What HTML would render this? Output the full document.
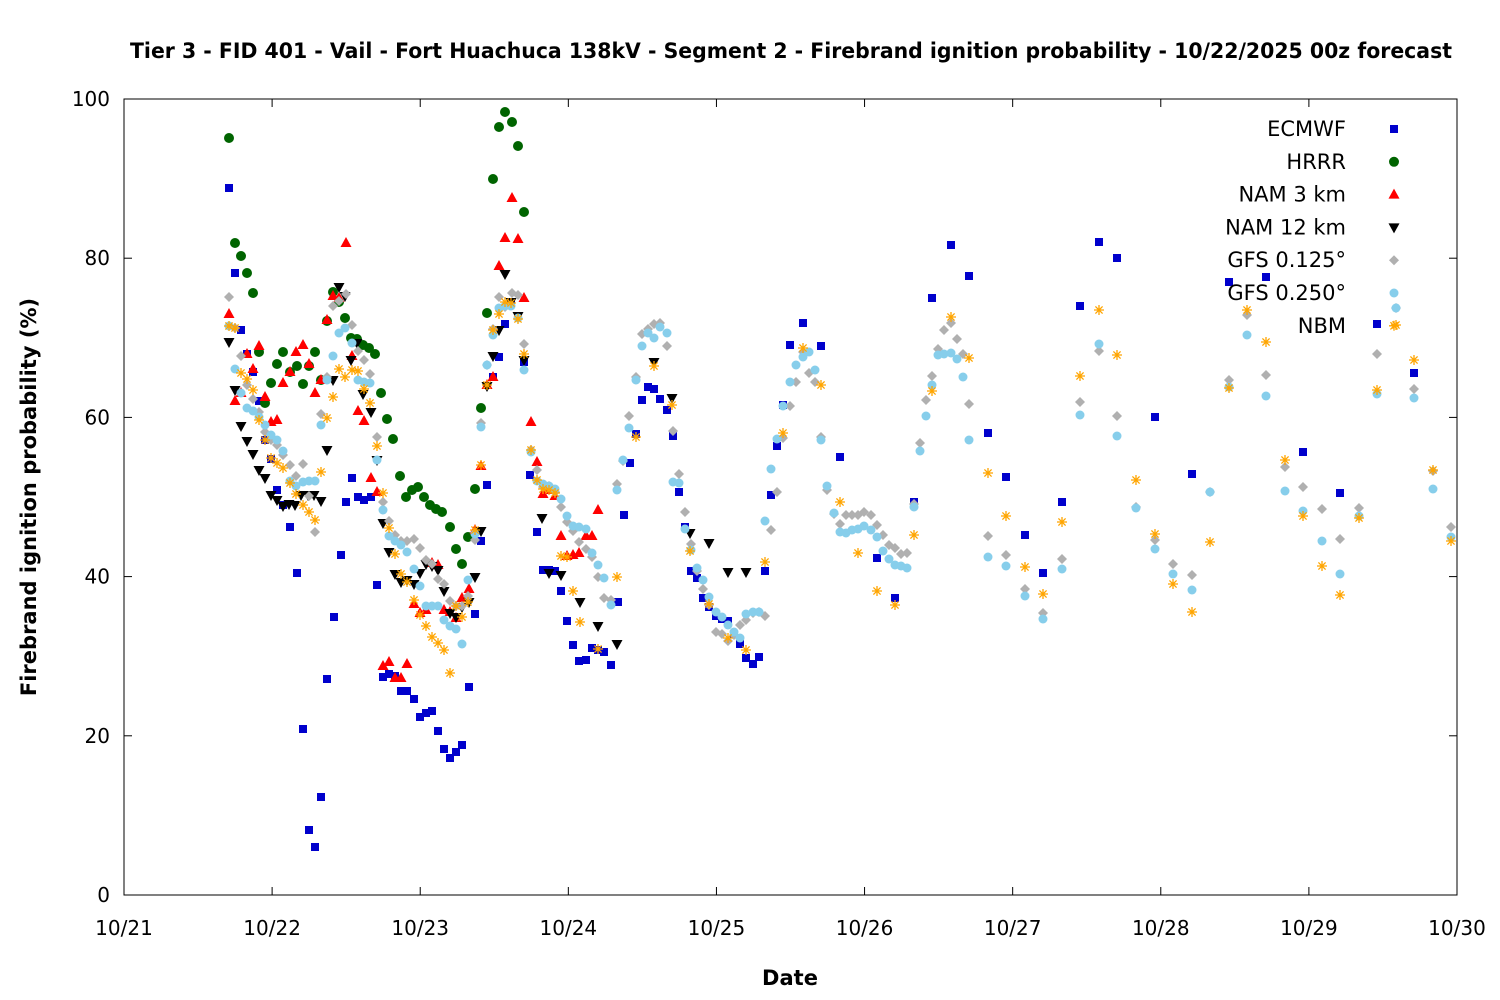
<!DOCTYPE html>
<html><head><meta charset="utf-8"><style>
body{margin:0;background:#fff}
svg{display:block;font-family:"DejaVu Sans","Liberation Sans",sans-serif}
</style></head><body>
<svg id="s" width="1500" height="1000" xmlns="http://www.w3.org/2000/svg">
<rect width="1500" height="1000" fill="#fff"/>
<text x="791" y="58" text-anchor="middle" font-size="21" font-weight="bold" textLength="1322" lengthAdjust="spacingAndGlyphs">Tier 3 - FID 401 - Vail - Fort Huachuca 138kV - Segment 2 - Firebrand ignition probability - 10/22/2025 00z forecast</text>
<rect x="124" y="99" width="1333" height="796" fill="none" stroke="#000" stroke-width="1"/>
<g id="ticks" stroke="#000" stroke-width="1"></g>
<g id="labels" font-size="20"></g>
<text x="790" y="985" text-anchor="middle" font-size="21" font-weight="bold">Date</text>
<text transform="translate(36,497) rotate(-90)" text-anchor="middle" font-size="21" font-weight="bold">Firebrand ignition probability (%)</text>
<g id="pts"></g>
<g id="leg" font-size="21" text-anchor="end"></g>
</svg>
<script>
const NS="http://www.w3.org/2000/svg";
function el(t,a,p){const e=document.createElementNS(NS,t);for(const k in a)e.setAttribute(k,a[k]);p.appendChild(e);return e;}
const ticks=document.getElementById('ticks'),labels=document.getElementById('labels');
const dates=['10/21','10/22','10/23','10/24','10/25','10/26','10/27','10/28','10/29','10/30'];
dates.forEach((d,i)=>{const x=124+i*1333/9;
 el('line',{x1:x,y1:895,x2:x,y2:887},ticks);el('line',{x1:x,y1:99,x2:x,y2:107},ticks);
 const t=el('text',{x:x,y:935,'text-anchor':'middle'},labels);t.textContent=d;});
for(let v=0;v<=100;v+=20){const y=895-v*7.96;
 el('line',{x1:124,y1:y,x2:132,y2:y},ticks);el('line',{x1:1457,y1:y,x2:1449,y2:y},ticks);
 const t=el('text',{x:110,y:y+7,'text-anchor':'end'},labels);t.textContent=v;}
function P(s){const a=s.match(/-?\d+/g).map(Number);const r=[];for(let i=0;i<a.length;i+=2)r.push([a[i],a[i+1]]);return r;}
const D={
ec:P("(229,188),(235,273),(241,330),(247,354),(253,372),(259,401),(265,440),(271,459),(277,490),(283,505),(290,527),(297,573),(303,729),(309,830),(315,847),(321,797),(327,679),(334,617),(341,555),(346,502),(352,478),(358,497),(364,500),(371,497),(377,585),(383,677),(389,674),(395,676),(401,691),(407,691),(414,699),(420,717),(426,713),(432,711),(438,731),(444,749),(450,758),(456,752),(462,745),(469,687),(475,614),(481,541),(487,485),(493,377),(499,357),(505,324),(511,302),(518,316),(524,362),(530,475),(537,532),(543,570),(549,570),(555,571),(561,591),(567,621),(573,645),(579,661),(586,660),(592,648),(598,650),(604,652),(611,665),(618,602),(624,515),(630,463),(636,434),(642,400),(648,387),(654,389),(660,399),(667,410),(673,436),(679,492),(685,527),(691,571),(697,578),(703,598),(709,607),(716,616),(722,619),(728,621),(734,634),(740,644),(746,658),(753,664),(759,657),(765,571),(771,495),(777,446),(783,405),(790,345),(803,323),(821,346),(840,457),(877,558),(895,598),(914,502),(932,298),(951,245),(969,276),(988,433),(1006,477),(1025,535),(1043,573),(1062,502),(1080,306),(1099,242),(1117,258),(1155,417),(1192,474),(1229,282),(1266,277),(1303,452),(1340,493),(1377,324),(1414,373)"),
hr:P("(229,138),(235,243),(241,256),(247,273),(253,293),(259,352),(265,403),(271,383),(277,364),(283,352),(290,372),(297,366),(303,384),(309,366),(315,352),(321,380),(327,321),(333,292),(339,302),(345,318),(351,338),(357,339),(363,345),(369,348),(375,354),(381,393),(387,419),(393,439),(400,476),(406,497),(412,490),(418,487),(424,497),(430,505),(436,509),(442,512),(450,527),(456,549),(462,564),(468,537),(475,489),(481,408),(487,313),(493,179),(499,127),(505,112),(512,122),(518,146),(524,212)"),
n3:P("(229,314),(235,401),(241,393),(247,354),(253,369),(259,346),(265,397),(271,422),(277,420),(283,383),(290,372),(296,352),(303,345),(309,364),(315,393),(321,380),(327,320),(333,296),(339,298),(346,243),(352,356),(358,411),(364,421),(371,478),(377,492),(383,666),(389,662),(395,678),(401,678),(407,664),(414,604),(420,613),(426,610),(432,563),(438,565),(444,610),(450,612),(456,618),(462,598),(469,589),(475,530),(481,466),(487,385),(493,377),(499,266),(505,238),(512,198),(518,239),(524,298),(531,422),(537,462),(543,494),(549,490),(555,496),(561,536),(567,556),(573,555),(579,553),(586,536),(592,536),(598,510)"),
n12:P("(229,342),(235,390),(241,426),(247,441),(253,454),(259,470),(265,478),(271,495),(277,500),(283,506),(289,504),(295,505),(301,495),(308,495),(314,495),(321,501),(327,450),(333,380),(339,287),(345,296),(351,360),(357,343),(363,394),(371,412),(377,460),(383,523),(389,552),(395,574),(401,582),(407,580),(414,584),(420,573),(426,564),(432,566),(438,570),(444,591),(450,613),(456,617),(462,607),(469,602),(475,577),(481,531),(487,386),(493,356),(499,330),(505,274),(511,302),(518,316),(524,360),(542,518),(549,573),(561,575),(580,602),(598,626),(617,644),(654,362),(672,398),(690,533),(709,543),(728,572),(746,572)"),
g1:P("(229,297),(235,328),(241,356),(247,385),(253,399),(259,412),(265,432),(271,440),(277,445),(283,455),(290,465),(296,476),(303,464),(309,496),(315,532),(321,414),(327,377),(333,306),(339,301),(346,294),(352,325),(358,351),(364,360),(370,374),(377,437),(383,502),(389,521),(395,535),(401,541),(407,541),(414,539),(420,548),(426,560),(432,564),(438,579),(444,584),(450,601),(456,606),(462,606),(468,596),(475,540),(481,423),(487,365),(493,329),(499,297),(505,307),(512,293),(518,295),(524,344),(531,450),(537,470),(543,487),(549,486),(555,492),(561,507),(567,522),(573,531),(579,542),(586,549),(592,557),(598,577),(604,598),(611,600),(617,484),(623,461),(629,416),(636,377),(642,334),(648,329),(654,324),(660,323),(667,346),(673,431),(679,474),(685,512),(691,544),(697,571),(703,589),(709,605),(716,632),(722,634),(728,641),(734,635),(740,625),(746,620),(753,613),(759,612),(765,616),(771,530),(777,492),(783,438),(790,406),(796,382),(803,352),(809,373),(815,382),(821,437),(827,490),(834,514),(840,524),(846,515),(852,515),(858,515),(864,512),(871,515),(877,525),(883,535),(889,545),(895,548),(901,554),(907,553),(914,504),(920,443),(926,400),(932,376),(938,349),(944,330),(951,323),(957,339),(963,354),(969,404),(988,536),(1006,555),(1025,589),(1043,613),(1062,559),(1080,402),(1099,351),(1117,416),(1136,507),(1155,540),(1173,564),(1192,575),(1210,492),(1229,380),(1247,315),(1266,375),(1285,467),(1303,487),(1322,509),(1340,539),(1359,508),(1377,354),(1396,308),(1414,389),(1433,471),(1451,527)"),
g2:P("(229,326),(235,369),(241,393),(247,408),(253,411),(259,417),(265,425),(271,435),(277,440),(283,451),(290,481),(296,486),(303,482),(309,481),(315,481),(321,425),(327,380),(333,356),(339,333),(345,328),(352,343),(358,380),(364,382),(370,383),(377,460),(383,510),(389,536),(395,541),(401,545),(407,552),(414,569),(420,586),(426,606),(432,606),(438,606),(444,620),(450,626),(456,629),(462,644),(468,580),(475,534),(481,427),(487,365),(493,335),(499,308),(505,306),(511,306),(518,318),(524,370),(531,452),(537,481),(543,484),(549,486),(555,489),(561,499),(567,516),(573,526),(579,527),(586,529),(592,553),(598,565),(604,578),(611,605),(617,490),(623,460),(629,428),(636,380),(642,346),(648,333),(654,338),(660,327),(667,333),(673,482),(679,483),(685,529),(691,550),(697,568),(703,580),(709,597),(716,612),(722,617),(728,625),(734,632),(740,638),(746,614),(753,612),(759,612),(765,521),(771,469),(777,439),(783,406),(790,382),(796,365),(803,357),(809,352),(815,370),(821,440),(827,486),(834,513),(840,532),(846,533),(852,530),(858,529),(864,526),(871,530),(877,537),(883,551),(889,559),(895,565),(901,566),(907,568),(914,507),(920,451),(926,416),(932,385),(938,355),(944,354),(951,353),(957,359),(963,377),(969,440),(988,557),(1006,566),(1025,596),(1043,619),(1062,569),(1080,415),(1099,344),(1117,436),(1136,508),(1155,549),(1173,574),(1192,590),(1210,492),(1229,387),(1247,335),(1266,396),(1285,491),(1303,511),(1322,541),(1340,574),(1359,516),(1377,394),(1396,308),(1414,398),(1433,489),(1451,537)"),
nb:P("(229,326),(235,328),(241,373),(247,379),(253,390),(259,420),(265,440),(271,458),(277,463),(283,468),(290,483),(296,494),(303,505),(309,512),(315,520),(321,472),(327,418),(333,397),(339,369),(345,377),(352,370),(358,371),(364,389),(370,403),(377,446),(383,493),(389,528),(395,554),(401,574),(407,582),(414,600),(420,615),(426,626),(432,637),(438,643),(444,650),(450,673),(456,606),(462,617),(468,602),(475,530),(481,465),(487,385),(493,330),(499,314),(505,302),(511,303),(518,319),(524,354),(531,450),(537,480),(543,489),(549,490),(555,493),(561,556),(567,557),(573,591),(580,622),(598,649),(617,577),(636,437),(654,366),(672,405),(690,551),(709,604),(728,638),(746,650),(765,562),(783,433),(803,348),(821,385),(840,502),(858,553),(877,591),(895,605),(914,535),(932,391),(951,317),(969,358),(988,473),(1006,516),(1025,567),(1043,594),(1062,522),(1080,376),(1099,310),(1117,355),(1136,480),(1155,534),(1173,584),(1192,612),(1210,542),(1229,388),(1247,310),(1266,342),(1285,460),(1303,516),(1322,566),(1340,595),(1359,518),(1377,390),(1396,325),(1414,360),(1433,470),(1451,541)")
};
const g=document.getElementById('pts');
const M={
ec:(x,y,p)=>el('rect',{x:x-4,y:y-4,width:8,height:8,fill:'#0000cc'},p),
hr:(x,y,p)=>el('circle',{cx:x,cy:y,r:5,fill:'#006400'},p),
n3:(x,y,p)=>el('polygon',{points:`${x},${y-6} ${x+5.5},${y+4} ${x-5.5},${y+4}`,fill:'#ff0000'},p),
n12:(x,y,p)=>el('polygon',{points:`${x},${y+6} ${x+5.5},${y-4} ${x-5.5},${y-4}`,fill:'#000'},p),
g1:(x,y,p)=>el('polygon',{points:`${x},${y-5} ${x+5},${y} ${x},${y+5} ${x-5},${y}`,fill:'#b0b0b0'},p),
g2:(x,y,p)=>el('circle',{cx:x,cy:y,r:4.5,fill:'#87ceeb'},p),
nb:(x,y,p)=>el('path',{d:`M${x-5} ${y}H${x+5}M${x} ${y-5}V${y+5}M${x-3.6} ${y-3.6}L${x+3.6} ${y+3.6}M${x-3.6} ${y+3.6}L${x+3.6} ${y-3.6}`,stroke:'#ffa500','stroke-width':1.3,fill:'none'},p)
};
const order=['ec','hr','n3','n12','g1','g2','nb'];
order.forEach(k=>D[k].forEach(([x,y])=>M[k](x,y,g)));
const names=['ECMWF','HRRR','NAM 3 km','NAM 12 km','GFS 0.125°','GFS 0.250°','NBM'];
const leg=document.getElementById('leg');
names.forEach((n,i)=>{const y=129+i*32.8;const t=el('text',{x:1346,y:y+7},leg);t.textContent=n;M[order[i]](1394,y,leg);});
</script>
</body></html>
